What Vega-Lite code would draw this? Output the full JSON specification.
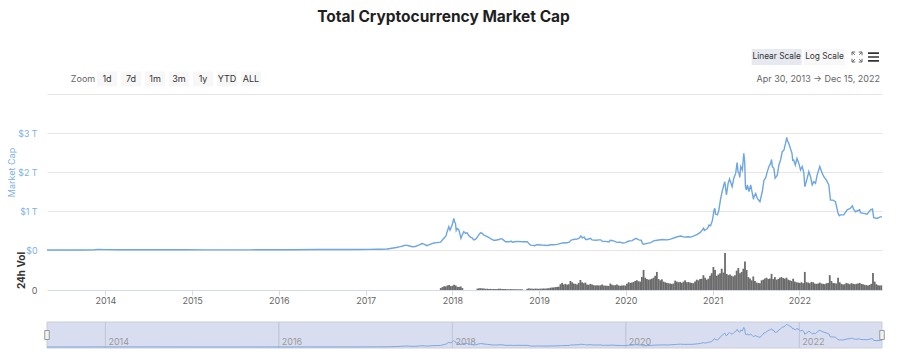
{
  "$schema": "https://vega.github.io/schema/vega-lite/v6.json",
  "width": 835,
  "height": 254,
  "autosize": {"type": "none"},
  "padding": {"left": 47, "top": 94, "right": 18, "bottom": 10},
  "background": "#ffffff",
  "title": {
    "text": "Total Cryptocurrency Market Cap",
    "font": "Inter",
    "fontSize": 15.5,
    "fontWeight": 700,
    "color": "#1f1f1f",
    "anchor": "middle",
    "dx": -21,
    "offset": 24
  },
  "config": {
    "view": {"stroke": null},
    "font": "Inter",
    "axis": {"labelFont": "Inter", "titleFont": "Inter"},
    "text": {"font": "Inter"}
  },
  "datasets": {
    "cap": [
      {"d": "2013-04-30", "c": 0.0016}, {"d": "2013-07-01", "c": 0.0011}, {"d": "2013-10-01", "c": 0.0018},
      {"d": "2013-11-15", "c": 0.006}, {"d": "2013-12-04", "c": 0.015}, {"d": "2014-01-01", "c": 0.010},
      {"d": "2014-03-01", "c": 0.008}, {"d": "2014-06-01", "c": 0.008}, {"d": "2014-09-01", "c": 0.006},
      {"d": "2014-12-01", "c": 0.0052}, {"d": "2015-03-01", "c": 0.0045}, {"d": "2015-06-01", "c": 0.0042},
      {"d": "2015-09-01", "c": 0.0044}, {"d": "2015-12-01", "c": 0.006}, {"d": "2016-03-01", "c": 0.007},
      {"d": "2016-06-15", "c": 0.0115}, {"d": "2016-09-01", "c": 0.011}, {"d": "2016-12-01", "c": 0.012},
      {"d": "2017-01-15", "c": 0.016}, {"d": "2017-02-15", "c": 0.018}, {"d": "2017-03-03", "c": 0.020},
      {"d": "2017-04-01", "c": 0.025}, {"d": "2017-04-15", "c": 0.040}, {"d": "2017-05-10", "c": 0.065},
      {"d": "2017-05-27", "c": 0.085}, {"d": "2017-06-10", "c": 0.11}, {"d": "2017-06-17", "c": 0.125},
      {"d": "2017-07-01", "c": 0.11}, {"d": "2017-07-16", "c": 0.085}, {"d": "2017-07-29", "c": 0.09},
      {"d": "2017-08-15", "c": 0.13}, {"d": "2017-08-26", "c": 0.165}, {"d": "2017-09-04", "c": 0.15},
      {"d": "2017-09-15", "c": 0.11}, {"d": "2017-10-01", "c": 0.15}, {"d": "2017-10-15", "c": 0.18},
      {"d": "2017-10-29", "c": 0.19}, {"d": "2017-11-12", "c": 0.20}, {"d": "2017-11-19", "c": 0.25},
      {"d": "2017-11-29", "c": 0.32}, {"d": "2017-12-05", "c": 0.36}, {"d": "2017-12-10", "c": 0.47},
      {"d": "2017-12-17", "c": 0.60}, {"d": "2017-12-22", "c": 0.51}, {"d": "2017-12-27", "c": 0.58},
      {"d": "2017-12-31", "c": 0.64}, {"d": "2018-01-04", "c": 0.74}, {"d": "2018-01-07", "c": 0.81},
      {"d": "2018-01-10", "c": 0.72}, {"d": "2018-01-14", "c": 0.68}, {"d": "2018-01-17", "c": 0.50},
      {"d": "2018-01-21", "c": 0.55}, {"d": "2018-01-28", "c": 0.52}, {"d": "2018-02-02", "c": 0.40},
      {"d": "2018-02-06", "c": 0.30}, {"d": "2018-02-11", "c": 0.38}, {"d": "2018-02-18", "c": 0.47},
      {"d": "2018-02-25", "c": 0.43}, {"d": "2018-03-04", "c": 0.44}, {"d": "2018-03-11", "c": 0.37},
      {"d": "2018-03-18", "c": 0.33}, {"d": "2018-03-25", "c": 0.31}, {"d": "2018-04-01", "c": 0.26},
      {"d": "2018-04-08", "c": 0.27}, {"d": "2018-04-15", "c": 0.32}, {"d": "2018-04-22", "c": 0.39},
      {"d": "2018-04-29", "c": 0.44}, {"d": "2018-05-06", "c": 0.43}, {"d": "2018-05-14", "c": 0.38},
      {"d": "2018-05-28", "c": 0.34}, {"d": "2018-06-11", "c": 0.29}, {"d": "2018-06-24", "c": 0.25},
      {"d": "2018-07-02", "c": 0.25}, {"d": "2018-07-16", "c": 0.27}, {"d": "2018-07-25", "c": 0.29},
      {"d": "2018-08-01", "c": 0.27}, {"d": "2018-08-13", "c": 0.21}, {"d": "2018-08-27", "c": 0.21},
      {"d": "2018-09-05", "c": 0.23}, {"d": "2018-09-10", "c": 0.20}, {"d": "2018-09-20", "c": 0.21},
      {"d": "2018-10-01", "c": 0.22}, {"d": "2018-10-22", "c": 0.21}, {"d": "2018-11-12", "c": 0.21},
      {"d": "2018-11-20", "c": 0.16}, {"d": "2018-11-26", "c": 0.125}, {"d": "2018-12-06", "c": 0.12},
      {"d": "2018-12-14", "c": 0.11}, {"d": "2018-12-24", "c": 0.14}, {"d": "2018-12-31", "c": 0.13},
      {"d": "2019-01-10", "c": 0.13}, {"d": "2019-01-21", "c": 0.12}, {"d": "2019-02-07", "c": 0.115},
      {"d": "2019-02-18", "c": 0.135}, {"d": "2019-03-04", "c": 0.135}, {"d": "2019-03-18", "c": 0.145},
      {"d": "2019-04-02", "c": 0.17}, {"d": "2019-04-10", "c": 0.18}, {"d": "2019-04-29", "c": 0.185},
      {"d": "2019-05-10", "c": 0.21}, {"d": "2019-05-14", "c": 0.25}, {"d": "2019-05-20", "c": 0.26},
      {"d": "2019-05-30", "c": 0.275}, {"d": "2019-06-10", "c": 0.28}, {"d": "2019-06-20", "c": 0.31},
      {"d": "2019-06-26", "c": 0.36}, {"d": "2019-07-02", "c": 0.31}, {"d": "2019-07-10", "c": 0.33},
      {"d": "2019-07-16", "c": 0.27}, {"d": "2019-07-22", "c": 0.27}, {"d": "2019-08-06", "c": 0.30},
      {"d": "2019-08-12", "c": 0.26}, {"d": "2019-08-28", "c": 0.25}, {"d": "2019-09-10", "c": 0.26},
      {"d": "2019-09-18", "c": 0.26}, {"d": "2019-09-25", "c": 0.22}, {"d": "2019-10-07", "c": 0.22},
      {"d": "2019-10-23", "c": 0.205}, {"d": "2019-10-27", "c": 0.25}, {"d": "2019-11-08", "c": 0.24},
      {"d": "2019-11-25", "c": 0.195}, {"d": "2019-12-09", "c": 0.20}, {"d": "2019-12-18", "c": 0.18},
      {"d": "2019-12-31", "c": 0.19}, {"d": "2020-01-14", "c": 0.23}, {"d": "2020-01-28", "c": 0.24},
      {"d": "2020-02-05", "c": 0.27}, {"d": "2020-02-13", "c": 0.30}, {"d": "2020-02-25", "c": 0.26},
      {"d": "2020-03-06", "c": 0.25}, {"d": "2020-03-12", "c": 0.16}, {"d": "2020-03-17", "c": 0.15},
      {"d": "2020-03-31", "c": 0.17}, {"d": "2020-04-15", "c": 0.19}, {"d": "2020-04-30", "c": 0.24},
      {"d": "2020-05-12", "c": 0.25}, {"d": "2020-06-03", "c": 0.27}, {"d": "2020-06-24", "c": 0.26},
      {"d": "2020-07-08", "c": 0.28}, {"d": "2020-07-27", "c": 0.32}, {"d": "2020-08-05", "c": 0.34},
      {"d": "2020-08-19", "c": 0.36}, {"d": "2020-09-04", "c": 0.33}, {"d": "2020-09-20", "c": 0.34},
      {"d": "2020-09-30", "c": 0.33}, {"d": "2020-10-15", "c": 0.36}, {"d": "2020-10-28", "c": 0.40},
      {"d": "2020-11-10", "c": 0.45}, {"d": "2020-11-24", "c": 0.56}, {"d": "2020-11-27", "c": 0.50},
      {"d": "2020-12-10", "c": 0.55}, {"d": "2020-12-17", "c": 0.64}, {"d": "2020-12-23", "c": 0.62},
      {"d": "2020-12-31", "c": 0.76}, {"d": "2021-01-06", "c": 1.00}, {"d": "2021-01-10", "c": 1.07},
      {"d": "2021-01-13", "c": 0.92}, {"d": "2021-01-21", "c": 0.90}, {"d": "2021-01-27", "c": 1.02},
      {"d": "2021-02-03", "c": 1.30}, {"d": "2021-02-10", "c": 1.50}, {"d": "2021-02-17", "c": 1.67},
      {"d": "2021-02-21", "c": 1.75}, {"d": "2021-02-28", "c": 1.41}, {"d": "2021-03-07", "c": 1.71},
      {"d": "2021-03-13", "c": 1.82}, {"d": "2021-03-17", "c": 1.75}, {"d": "2021-03-24", "c": 1.62},
      {"d": "2021-03-31", "c": 1.84}, {"d": "2021-04-08", "c": 1.97}, {"d": "2021-04-14", "c": 2.24},
      {"d": "2021-04-18", "c": 2.00}, {"d": "2021-04-22", "c": 1.97}, {"d": "2021-04-25", "c": 1.86},
      {"d": "2021-04-29", "c": 2.14}, {"d": "2021-05-06", "c": 2.05}, {"d": "2021-05-12", "c": 2.48},
      {"d": "2021-05-16", "c": 2.25}, {"d": "2021-05-19", "c": 1.62}, {"d": "2021-05-23", "c": 1.54},
      {"d": "2021-05-27", "c": 1.67}, {"d": "2021-06-03", "c": 1.50}, {"d": "2021-06-10", "c": 1.67},
      {"d": "2021-06-17", "c": 1.45}, {"d": "2021-06-22", "c": 1.30}, {"d": "2021-06-24", "c": 1.37},
      {"d": "2021-07-01", "c": 1.45}, {"d": "2021-07-08", "c": 1.32}, {"d": "2021-07-19", "c": 1.24},
      {"d": "2021-07-29", "c": 1.50}, {"d": "2021-08-05", "c": 1.79}, {"d": "2021-08-12", "c": 1.85},
      {"d": "2021-08-19", "c": 2.01}, {"d": "2021-08-26", "c": 2.14}, {"d": "2021-09-02", "c": 2.22},
      {"d": "2021-09-06", "c": 2.32}, {"d": "2021-09-09", "c": 2.14}, {"d": "2021-09-16", "c": 2.09},
      {"d": "2021-09-21", "c": 1.84}, {"d": "2021-09-26", "c": 1.88}, {"d": "2021-09-30", "c": 1.92},
      {"d": "2021-10-07", "c": 2.18}, {"d": "2021-10-14", "c": 2.31}, {"d": "2021-10-21", "c": 2.52},
      {"d": "2021-10-28", "c": 2.56}, {"d": "2021-11-04", "c": 2.74}, {"d": "2021-11-09", "c": 2.89},
      {"d": "2021-11-12", "c": 2.80}, {"d": "2021-11-17", "c": 2.74}, {"d": "2021-11-24", "c": 2.61},
      {"d": "2021-12-01", "c": 2.48}, {"d": "2021-12-04", "c": 2.30}, {"d": "2021-12-08", "c": 2.31},
      {"d": "2021-12-15", "c": 2.18}, {"d": "2021-12-22", "c": 2.35}, {"d": "2021-12-30", "c": 2.22},
      {"d": "2022-01-06", "c": 2.05}, {"d": "2022-01-13", "c": 2.14}, {"d": "2022-01-20", "c": 1.97},
      {"d": "2022-01-24", "c": 1.62}, {"d": "2022-02-03", "c": 1.84}, {"d": "2022-02-10", "c": 2.01},
      {"d": "2022-02-17", "c": 1.88}, {"d": "2022-02-24", "c": 1.67}, {"d": "2022-03-03", "c": 1.75},
      {"d": "2022-03-10", "c": 1.71}, {"d": "2022-03-17", "c": 1.92}, {"d": "2022-03-28", "c": 2.14},
      {"d": "2022-04-07", "c": 1.97}, {"d": "2022-04-14", "c": 1.88}, {"d": "2022-04-25", "c": 1.79},
      {"d": "2022-05-05", "c": 1.67}, {"d": "2022-05-12", "c": 1.28}, {"d": "2022-05-22", "c": 1.28},
      {"d": "2022-06-02", "c": 1.24}, {"d": "2022-06-13", "c": 0.94}, {"d": "2022-06-18", "c": 0.88},
      {"d": "2022-06-23", "c": 0.90}, {"d": "2022-07-07", "c": 0.90}, {"d": "2022-07-21", "c": 1.03},
      {"d": "2022-08-04", "c": 1.07}, {"d": "2022-08-12", "c": 1.13}, {"d": "2022-08-18", "c": 1.04},
      {"d": "2022-08-25", "c": 0.98}, {"d": "2022-09-01", "c": 1.00}, {"d": "2022-09-12", "c": 1.03},
      {"d": "2022-09-15", "c": 0.96}, {"d": "2022-09-29", "c": 0.94}, {"d": "2022-10-13", "c": 0.92},
      {"d": "2022-10-28", "c": 1.03}, {"d": "2022-11-05", "c": 1.05}, {"d": "2022-11-10", "c": 0.83},
      {"d": "2022-11-24", "c": 0.81}, {"d": "2022-12-08", "c": 0.85}, {"d": "2022-12-15", "c": 0.85}
    ],
    "vol": [
      {"d": "2017-11-13", "v": 30}, {"d": "2017-11-20", "v": 45}, {"d": "2017-11-27", "v": 60}, {"d": "2017-12-04", "v": 55},
      {"d": "2017-12-11", "v": 70}, {"d": "2017-12-18", "v": 78}, {"d": "2017-12-25", "v": 60},
      {"d": "2018-01-01", "v": 65}, {"d": "2018-01-08", "v": 80}, {"d": "2018-01-15", "v": 70}, {"d": "2018-01-22", "v": 50},
      {"d": "2018-01-29", "v": 45}, {"d": "2018-02-05", "v": 55}, {"d": "2018-02-12", "v": 30},
      {"d": "2018-04-16", "v": 20}, {"d": "2018-04-23", "v": 26}, {"d": "2018-04-30", "v": 28}, {"d": "2018-05-07", "v": 25},
      {"d": "2018-05-14", "v": 22}, {"d": "2018-05-21", "v": 18}, {"d": "2018-05-28", "v": 20}, {"d": "2018-06-04", "v": 16},
      {"d": "2018-06-11", "v": 18}, {"d": "2018-06-18", "v": 14}, {"d": "2018-06-25", "v": 15}, {"d": "2018-07-02", "v": 14},
      {"d": "2018-07-09", "v": 16}, {"d": "2018-07-16", "v": 18}, {"d": "2018-07-23", "v": 20}, {"d": "2018-07-30", "v": 15},
      {"d": "2018-08-06", "v": 14}, {"d": "2018-08-13", "v": 16}, {"d": "2018-08-20", "v": 12}, {"d": "2018-08-27", "v": 13},
      {"d": "2018-09-03", "v": 15}, {"d": "2018-09-10", "v": 12}, {"d": "2018-09-17", "v": 11}, {"d": "2018-09-24", "v": 12},
      {"d": "2018-10-01", "v": 10}, {"d": "2018-10-08", "v": 11}, {"d": "2018-10-15", "v": 12}, {"d": "2018-10-22", "v": 10},
      {"d": "2018-11-12", "v": 18}, {"d": "2018-11-19", "v": 25}, {"d": "2018-11-26", "v": 22}, {"d": "2018-12-03", "v": 20},
      {"d": "2018-12-10", "v": 18}, {"d": "2018-12-17", "v": 22}, {"d": "2018-12-24", "v": 20}, {"d": "2018-12-31", "v": 18},
      {"d": "2019-01-07", "v": 22}, {"d": "2019-01-14", "v": 20}, {"d": "2019-01-21", "v": 24}, {"d": "2019-01-28", "v": 22},
      {"d": "2019-02-04", "v": 25}, {"d": "2019-02-11", "v": 28}, {"d": "2019-02-18", "v": 35}, {"d": "2019-02-25", "v": 38},
      {"d": "2019-03-04", "v": 40}, {"d": "2019-03-11", "v": 45}, {"d": "2019-03-18", "v": 48}, {"d": "2019-03-25", "v": 50},
      {"d": "2019-04-01", "v": 90}, {"d": "2019-04-08", "v": 110}, {"d": "2019-04-15", "v": 85}, {"d": "2019-04-22", "v": 95},
      {"d": "2019-04-29", "v": 80}, {"d": "2019-05-06", "v": 90}, {"d": "2019-05-13", "v": 140}, {"d": "2019-05-20", "v": 120},
      {"d": "2019-05-27", "v": 100}, {"d": "2019-06-03", "v": 95}, {"d": "2019-06-10", "v": 85}, {"d": "2019-06-17", "v": 110},
      {"d": "2019-06-24", "v": 155}, {"d": "2019-07-01", "v": 120}, {"d": "2019-07-08", "v": 105}, {"d": "2019-07-15", "v": 115},
      {"d": "2019-07-22", "v": 85}, {"d": "2019-07-29", "v": 80}, {"d": "2019-08-05", "v": 95}, {"d": "2019-08-12", "v": 85},
      {"d": "2019-08-19", "v": 75}, {"d": "2019-08-26", "v": 70}, {"d": "2019-09-02", "v": 75}, {"d": "2019-09-09", "v": 70},
      {"d": "2019-09-16", "v": 72}, {"d": "2019-09-23", "v": 85}, {"d": "2019-09-30", "v": 70}, {"d": "2019-10-07", "v": 68},
      {"d": "2019-10-14", "v": 65}, {"d": "2019-10-21", "v": 62}, {"d": "2019-10-28", "v": 100}, {"d": "2019-11-04", "v": 80},
      {"d": "2019-11-11", "v": 72}, {"d": "2019-11-18", "v": 75}, {"d": "2019-11-25", "v": 85}, {"d": "2019-12-02", "v": 70},
      {"d": "2019-12-09", "v": 65}, {"d": "2019-12-16", "v": 70}, {"d": "2019-12-23", "v": 72}, {"d": "2019-12-30", "v": 68},
      {"d": "2020-01-06", "v": 95}, {"d": "2020-01-13", "v": 120}, {"d": "2020-01-20", "v": 110}, {"d": "2020-01-27", "v": 115},
      {"d": "2020-02-03", "v": 125}, {"d": "2020-02-10", "v": 140}, {"d": "2020-02-17", "v": 150}, {"d": "2020-02-24", "v": 135},
      {"d": "2020-03-02", "v": 130}, {"d": "2020-03-09", "v": 200}, {"d": "2020-03-16", "v": 310}, {"d": "2020-03-23", "v": 190},
      {"d": "2020-03-30", "v": 170}, {"d": "2020-04-06", "v": 160}, {"d": "2020-04-13", "v": 165}, {"d": "2020-04-20", "v": 175},
      {"d": "2020-04-27", "v": 190}, {"d": "2020-05-04", "v": 220}, {"d": "2020-05-11", "v": 280}, {"d": "2020-05-18", "v": 170},
      {"d": "2020-05-25", "v": 150}, {"d": "2020-06-01", "v": 165}, {"d": "2020-06-08", "v": 130}, {"d": "2020-06-15", "v": 120},
      {"d": "2020-06-22", "v": 110}, {"d": "2020-06-29", "v": 105}, {"d": "2020-07-06", "v": 100}, {"d": "2020-07-13", "v": 95},
      {"d": "2020-07-20", "v": 100}, {"d": "2020-07-27", "v": 145}, {"d": "2020-08-03", "v": 130}, {"d": "2020-08-10", "v": 120},
      {"d": "2020-08-17", "v": 125}, {"d": "2020-08-24", "v": 110}, {"d": "2020-08-31", "v": 130}, {"d": "2020-09-07", "v": 150},
      {"d": "2020-09-14", "v": 120}, {"d": "2020-09-21", "v": 125}, {"d": "2020-09-28", "v": 115}, {"d": "2020-10-05", "v": 110},
      {"d": "2020-10-12", "v": 105}, {"d": "2020-10-19", "v": 130}, {"d": "2020-10-26", "v": 160}, {"d": "2020-11-02", "v": 150},
      {"d": "2020-11-09", "v": 170}, {"d": "2020-11-16", "v": 175}, {"d": "2020-11-23", "v": 230}, {"d": "2020-11-30", "v": 190},
      {"d": "2020-12-07", "v": 160}, {"d": "2020-12-14", "v": 175}, {"d": "2020-12-21", "v": 220}, {"d": "2020-12-28", "v": 260},
      {"d": "2021-01-04", "v": 356}, {"d": "2021-01-11", "v": 310}, {"d": "2021-01-18", "v": 220}, {"d": "2021-01-25", "v": 240},
      {"d": "2021-02-01", "v": 260}, {"d": "2021-02-08", "v": 330}, {"d": "2021-02-15", "v": 270}, {"d": "2021-02-22", "v": 575},
      {"d": "2021-03-01", "v": 250}, {"d": "2021-03-08", "v": 230}, {"d": "2021-03-15", "v": 240}, {"d": "2021-03-22", "v": 220},
      {"d": "2021-03-29", "v": 210}, {"d": "2021-04-05", "v": 230}, {"d": "2021-04-12", "v": 300}, {"d": "2021-04-19", "v": 340},
      {"d": "2021-04-26", "v": 260}, {"d": "2021-05-03", "v": 280}, {"d": "2021-05-10", "v": 330}, {"d": "2021-05-17", "v": 440},
      {"d": "2021-05-24", "v": 310}, {"d": "2021-05-31", "v": 200}, {"d": "2021-06-07", "v": 180}, {"d": "2021-06-14", "v": 150},
      {"d": "2021-06-21", "v": 210}, {"d": "2021-06-28", "v": 140}, {"d": "2021-07-05", "v": 115}, {"d": "2021-07-12", "v": 110},
      {"d": "2021-07-19", "v": 105}, {"d": "2021-07-26", "v": 150}, {"d": "2021-08-02", "v": 160}, {"d": "2021-08-09", "v": 180},
      {"d": "2021-08-16", "v": 190}, {"d": "2021-08-23", "v": 170}, {"d": "2021-08-30", "v": 180}, {"d": "2021-09-06", "v": 250},
      {"d": "2021-09-13", "v": 170}, {"d": "2021-09-20", "v": 200}, {"d": "2021-09-27", "v": 160}, {"d": "2021-10-04", "v": 170},
      {"d": "2021-10-11", "v": 190}, {"d": "2021-10-18", "v": 200}, {"d": "2021-10-25", "v": 185}, {"d": "2021-11-01", "v": 175},
      {"d": "2021-11-08", "v": 190}, {"d": "2021-11-15", "v": 160}, {"d": "2021-11-22", "v": 150}, {"d": "2021-11-29", "v": 140},
      {"d": "2021-12-06", "v": 175}, {"d": "2021-12-13", "v": 130}, {"d": "2021-12-20", "v": 120}, {"d": "2021-12-27", "v": 115},
      {"d": "2022-01-03", "v": 110}, {"d": "2022-01-10", "v": 120}, {"d": "2022-01-17", "v": 105}, {"d": "2022-01-24", "v": 280},
      {"d": "2022-01-31", "v": 120}, {"d": "2022-02-07", "v": 115}, {"d": "2022-02-14", "v": 105}, {"d": "2022-02-21", "v": 125},
      {"d": "2022-02-28", "v": 120}, {"d": "2022-03-07", "v": 100}, {"d": "2022-03-14", "v": 95}, {"d": "2022-03-21", "v": 100},
      {"d": "2022-03-28", "v": 115}, {"d": "2022-04-04", "v": 100}, {"d": "2022-04-11", "v": 95}, {"d": "2022-04-18", "v": 90},
      {"d": "2022-04-25", "v": 105}, {"d": "2022-05-02", "v": 110}, {"d": "2022-05-09", "v": 230}, {"d": "2022-05-16", "v": 140},
      {"d": "2022-05-23", "v": 110}, {"d": "2022-05-30", "v": 105}, {"d": "2022-06-06", "v": 100}, {"d": "2022-06-13", "v": 190},
      {"d": "2022-06-20", "v": 120}, {"d": "2022-06-27", "v": 95}, {"d": "2022-07-04", "v": 85}, {"d": "2022-07-11", "v": 90},
      {"d": "2022-07-18", "v": 110}, {"d": "2022-07-25", "v": 100}, {"d": "2022-08-01", "v": 90}, {"d": "2022-08-08", "v": 105},
      {"d": "2022-08-15", "v": 95}, {"d": "2022-08-22", "v": 90}, {"d": "2022-08-29", "v": 95}, {"d": "2022-09-05", "v": 100},
      {"d": "2022-09-12", "v": 110}, {"d": "2022-09-19", "v": 95}, {"d": "2022-09-26", "v": 90}, {"d": "2022-10-03", "v": 80},
      {"d": "2022-10-10", "v": 75}, {"d": "2022-10-17", "v": 70}, {"d": "2022-10-24", "v": 80}, {"d": "2022-10-31", "v": 95},
      {"d": "2022-11-07", "v": 265}, {"d": "2022-11-14", "v": 130}, {"d": "2022-11-21", "v": 90}, {"d": "2022-11-28", "v": 75},
      {"d": "2022-12-05", "v": 70}, {"d": "2022-12-12", "v": 72}
    ],
    "navYears": [
      {"y": "2014-01-01", "label": "2014", "p": "nav"},
      {"y": "2016-01-01", "label": "2016", "p": "nav"},
      {"y": "2018-01-01", "label": "2018", "p": "nav"},
      {"y": "2020-01-01", "label": "2020", "p": "nav"},
      {"y": "2022-01-01", "label": "2022", "p": "nav"}
    ],
    "mask": [{"s": "2013-04-30", "e": "2022-12-15", "p": "nav"}],
    "handles": [{"d": "2013-04-30", "p": "nav"}, {"d": "2022-12-15", "p": "nav"}],
    "range": [{"d": "2022-12-15", "t": "Apr 30, 2013  \u2192  Dec 15, 2022", "r": "zoom"}],
    "zoomButtons": [
      {"b": "Zoom", "r": "zoom"}, {"b": "1d", "r": "zoom"}, {"b": "7d", "r": "zoom"}, {"b": "1m", "r": "zoom"},
      {"b": "3m", "r": "zoom"}, {"b": "1y", "r": "zoom"}, {"b": "YTD", "r": "zoom"}, {"b": "ALL", "r": "zoom"}
    ],
    "scaleButtons": [{"b": "Linear Scale", "r": "scale"}, {"b": "Log Scale", "r": "scale"}],
    "icons": [{"i": "fullscreen", "r": "scale"}, {"i": "menu", "r": "scale"}]
  },
  "layer": [
    {
      "layer": [
        {
          "data": {"name": "cap"},
          "mark": {"type": "line", "color": "#6ea6e2", "strokeWidth": 1.4},
          "encoding": {
            "x": {
              "field": "d", "type": "temporal",
              "scale": {"type": "utc", "padding": 0, "domain": [{"year": 2013, "month": 4, "date": 30, "utc": true}, {"year": 2022, "month": 12, "date": 15, "utc": true}]},
              "axis": {
                "title": null,
                "offset": -58,
                "values": [
                  {"year": 2014, "month": 1, "date": 1, "utc": true}, {"year": 2015, "month": 1, "date": 1, "utc": true},
                  {"year": 2016, "month": 1, "date": 1, "utc": true}, {"year": 2017, "month": 1, "date": 1, "utc": true},
                  {"year": 2018, "month": 1, "date": 1, "utc": true}, {"year": 2019, "month": 1, "date": 1, "utc": true},
                  {"year": 2020, "month": 1, "date": 1, "utc": true}, {"year": 2021, "month": 1, "date": 1, "utc": true},
                  {"year": 2022, "month": 1, "date": 1, "utc": true}
                ],
                "labelExpr": "utcFormat(datum.value, '%Y')",
                "grid": false,
                "domainColor": "#d5dbe6",
                "tickColor": "#d5dbe6",
                "tickSize": 5,
                "labelColor": "#666666",
                "labelFontSize": 9,
                "labelPadding": 1,
                "labelFlush": false
              }
            },
            "y": {
              "field": "c", "type": "quantitative",
              "scale": {"domain": [0, 4], "range": [156, 0]},
              "axis": {
                "values": [0, 1, 2, 3, 4],
                "labelExpr": "datum.value == 0 ? '$0' : datum.value == 4 ? '' : '$' + datum.value + ' T'",
                "grid": true,
                "gridColor": "#e6e6e6",
                "domain": false,
                "ticks": false,
                "labelColor": "#7cb0e6",
                "labelFontSize": 8.8,
                "labelPadding": 10,
                "title": "Market Cap",
                "titleColor": "#7cb0e6",
                "titleFontSize": 9,
                "titleFontWeight": "normal",
                "titlePadding": 1
              }
            }
          }
        },
        {
          "data": {"name": "vol"},
          "mark": {"type": "bar", "width": 1.8, "color": "#6b6b6b"},
          "encoding": {
            "x": {"field": "d", "type": "temporal"},
            "y": {
              "field": "v", "type": "quantitative",
              "scale": {"domain": [0, 620], "range": [196, 156]},
              "axis": {
                "orient": "left",
                "values": [0],
                "grid": false,
                "domain": false,
                "ticks": false,
                "labelColor": "#666666",
                "labelFontSize": 9,
                "labelPadding": 10,
                "title": "24h Vol",
                "titleColor": "#333333",
                "titleFontSize": 10,
                "titleFontWeight": "bold",
                "titlePadding": 5
              }
            }
          }
        },
        {
          "layer": [
            {
              "data": {"name": "mask"},
              "mark": {"type": "rect", "fill": "#d9ddf0", "stroke": "#c9cdda", "strokeWidth": 1},
              "encoding": {
                "x": {"field": "s", "type": "temporal"},
                "x2": {"field": "e"},
                "y": {"field": "p", "type": "nominal", "scale": {"type": "band", "range": [228, 254], "paddingInner": 0, "paddingOuter": 0}, "axis": null}
              }
            },
            {
              "data": {"name": "navYears"},
              "mark": {"type": "rect", "stroke": "#c3c8dc", "strokeWidth": 1, "fill": null},
              "encoding": {
                "x": {"field": "y", "type": "temporal"},
                "x2": {"field": "y"},
                "y": {"field": "p", "type": "nominal"}
              }
            },
            {
              "data": {"name": "navYears"},
              "mark": {"type": "text", "align": "left", "dx": 3, "dy": 7, "fontSize": 9, "color": "#999999"},
              "encoding": {
                "x": {"field": "y", "type": "temporal"},
                "y": {"field": "p", "type": "nominal"},
                "text": {"field": "label"}
              }
            },
            {
              "data": {"name": "handles"},
              "mark": {"type": "point", "shape": "M-0.5,-1H0.5V1H-0.5Z", "size": 81, "filled": true, "fill": "#f2f2f2", "stroke": "#999999", "strokeWidth": 1, "opacity": 1},
              "encoding": {
                "x": {"field": "d", "type": "temporal"},
                "y": {"field": "p", "type": "nominal"}
              }
            }
          ]
        },
        {
          "data": {"name": "cap"},
          "mark": {"type": "line", "color": "#7ea7df", "strokeWidth": 1},
          "encoding": {
            "x": {"field": "d", "type": "temporal"},
            "y": {"field": "c", "type": "quantitative", "scale": {"domain": [0, 3], "range": [253, 229.4]}, "axis": null}
          }
        },
        {
          "data": {"name": "range"},
          "mark": {"type": "text", "align": "right", "dx": -2, "fontSize": 9, "color": "#666666"},
          "encoding": {
            "x": {"field": "d", "type": "temporal"},
            "y": {"field": "r", "type": "nominal", "scale": {"type": "point", "domain": ["scale", "zoom"], "range": [-37, -15], "padding": 0}, "axis": null},
            "text": {"field": "t"}
          }
        }
      ],
      "resolve": {"scale": {"y": "independent"}}
    },
    {
      "data": {"name": "zoomButtons"},
      "encoding": {
        "x": {"field": "b", "type": "nominal", "scale": {"type": "point", "domain": ["Zoom", "1d", "7d", "1m", "3m", "1y", "YTD", "ALL"], "range": [36, 204], "padding": 0}, "axis": null},
        "y": {"field": "r", "type": "nominal", "scale": {"type": "point", "domain": ["scale", "zoom"], "range": [-37, -15], "padding": 0}, "axis": null}
      },
      "layer": [
        {
          "transform": [{"filter": "datum.b != 'Zoom'"}],
          "mark": {"type": "point", "shape": "M-1,-0.75H1V0.75H-1Z", "size": 400, "filled": true, "color": "#f7f7f7", "opacity": 1}
        },
        {
          "mark": {"type": "text", "fontSize": 9},
          "encoding": {
            "text": {"field": "b"},
            "color": {"condition": {"test": "datum.b == 'Zoom'", "value": "#666666"}, "value": "#333333"}
          }
        }
      ]
    },
    {
      "data": {"name": "scaleButtons"},
      "encoding": {
        "x": {"field": "b", "type": "nominal", "scale": {"type": "point", "domain": ["Linear Scale", "Log Scale"], "range": [729.7, 777.5], "padding": 0}, "axis": null},
        "y": {"field": "r", "type": "nominal", "scale": {"type": "point", "domain": ["scale", "zoom"], "range": [-37, -15], "padding": 0}, "axis": null}
      },
      "layer": [
        {
          "transform": [{"filter": "datum.b == 'Linear Scale'"}],
          "mark": {"type": "point", "shape": "M-1,-0.32H1V0.32H-1Z", "size": 2500, "filled": true, "color": "#e6e9ef", "opacity": 1}
        },
        {
          "transform": [{"filter": "datum.b == 'Log Scale'"}],
          "mark": {"type": "point", "shape": "M-1,-0.39H1V0.39H-1Z", "size": 1681, "filled": true, "color": "#f7f7f7", "opacity": 1}
        },
        {
          "mark": {"type": "text", "fontSize": 8.3, "color": "#333333"},
          "encoding": {"text": {"field": "b"}}
        }
      ]
    },
    {
      "data": {"name": "icons"},
      "encoding": {
        "x": {"field": "i", "type": "nominal", "scale": {"type": "point", "domain": ["fullscreen", "menu"], "range": [810, 826.5], "padding": 0}, "axis": null},
        "y": {"field": "r", "type": "nominal", "scale": {"type": "point", "domain": ["scale", "zoom"], "range": [-37, -15], "padding": 0}, "axis": null}
      },
      "layer": [
        {
          "transform": [{"filter": "datum.i == 'fullscreen'"}],
          "mark": {
            "type": "point",
            "shape": "M-1,-0.35L-1,-1L-0.35,-1M-1,-1L-0.45,-0.45M0.35,-1L1,-1L1,-0.35M1,-1L0.45,-0.45M1,0.35L1,1L0.35,1M1,1L0.45,0.45M-0.35,1L-1,1L-1,0.35M-1,1L-0.45,0.45",
            "size": 100, "filled": false, "color": "#666666", "strokeWidth": 1, "opacity": 1
          }
        },
        {
          "transform": [{"filter": "datum.i == 'menu'"}],
          "mark": {
            "type": "point",
            "shape": "M-1,-0.85H1V-0.55H-1Z M-1,-0.15H1V0.15H-1Z M-1,0.55H1V0.85H-1Z",
            "size": 121, "filled": true, "color": "#333333", "opacity": 1
          }
        }
      ]
    }
  ],
  "resolve": {"scale": {"x": "independent", "y": "independent"}}
}
